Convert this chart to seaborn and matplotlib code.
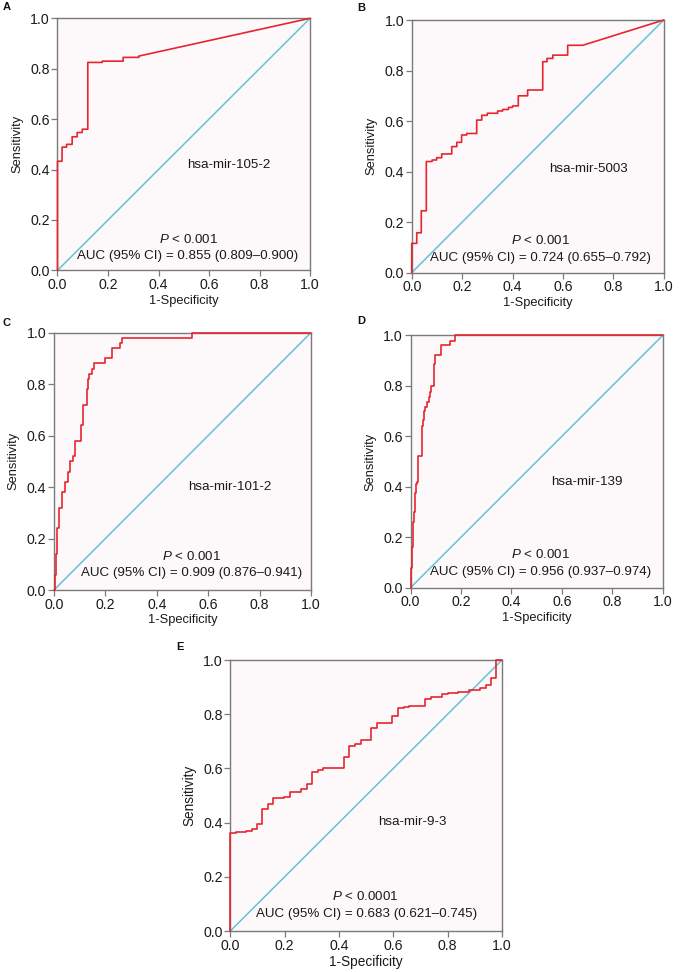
import numpy as np
import pandas as pd
import matplotlib
matplotlib.use("Agg")
import matplotlib.pyplot as plt
import seaborn as sns

# ---------------- data ----------------
panel_letters = ["A", "B", "C", "D", "E"]
mirna_names = ["hsa-mir-105-2", "hsa-mir-5003", "hsa-mir-101-2", "hsa-mir-139", "hsa-mir-9-3"]
p_texts = ["< 0.001", "< 0.001", "< 0.001", "< 0.001", "< 0.0001"]
auc_texts = [
    "AUC (95% CI) = 0.855 (0.809\u20130.900)",
    "AUC (95% CI) = 0.724 (0.655\u20130.792)",
    "AUC (95% CI) = 0.909 (0.876\u20130.941)",
    "AUC (95% CI) = 0.956 (0.937\u20130.974)",
    "AUC (95% CI) = 0.683 (0.621\u20130.745)",
]

# ROC operating points (step points); A and B end with a straight tail
fpr_a = [0.0, 0.0, 0.018, 0.036, 0.058, 0.078, 0.098, 0.12, 0.177, 0.26, 0.322, 1.0]
tpr_a = [0.0, 0.433, 0.489, 0.50, 0.53, 0.547, 0.56, 0.825, 0.83, 0.845, 0.85, 1.0]

fpr_b = [0.0, 0.0, 0.02, 0.038, 0.058, 0.081, 0.099, 0.119, 0.159, 0.179, 0.198, 0.218,
         0.258, 0.278, 0.30, 0.341, 0.361, 0.384, 0.40, 0.423, 0.46, 0.52, 0.537, 0.56,
         0.619, 0.679, 1.0]
tpr_b = [0.0, 0.116, 0.158, 0.245, 0.44, 0.446, 0.455, 0.47, 0.499, 0.516, 0.545, 0.551,
         0.604, 0.623, 0.631, 0.64, 0.646, 0.654, 0.66, 0.70, 0.723, 0.835, 0.848, 0.861,
         0.90, 0.90, 1.0]

fpr_c = [0.0, 0.004, 0.008, 0.013, 0.021, 0.03, 0.043, 0.053, 0.062, 0.075, 0.083, 0.105,
         0.112, 0.127, 0.131, 0.137, 0.147, 0.157, 0.198, 0.224, 0.257, 0.263, 0.536, 1.0]
tpr_c = [0.0, 0.06, 0.14, 0.24, 0.32, 0.38, 0.42, 0.46, 0.50, 0.52, 0.58, 0.64,
         0.72, 0.78, 0.82, 0.84, 0.86, 0.88, 0.90, 0.94, 0.96, 0.98, 1.0, 1.0]

fpr_d = [0.0, 0.002, 0.004, 0.009, 0.015, 0.018, 0.022, 0.026, 0.030, 0.044, 0.048, 0.052,
         0.059, 0.067, 0.073, 0.077, 0.083, 0.095, 0.099, 0.119, 0.156, 0.175, 1.0]
tpr_d = [0.0, 0.08, 0.16, 0.26, 0.30, 0.375, 0.41, 0.42, 0.52, 0.64, 0.665, 0.70,
         0.717, 0.737, 0.757, 0.777, 0.80, 0.885, 0.92, 0.96, 0.979, 1.0, 1.0]

fpr_e = [0.0, 0.0, 0.021, 0.056, 0.079, 0.097, 0.118, 0.14, 0.158, 0.199, 0.22, 0.26, 0.281,
         0.299, 0.321, 0.34, 0.418, 0.438, 0.459, 0.48, 0.518, 0.539, 0.594, 0.618, 0.639,
         0.659, 0.717, 0.737, 0.778, 0.80, 0.839, 0.88, 0.919, 0.94, 0.958, 0.978, 1.0]
tpr_e = [0.0, 0.36, 0.365, 0.37, 0.377, 0.394, 0.449, 0.469, 0.49, 0.496, 0.512, 0.524, 0.541,
         0.588, 0.594, 0.603, 0.643, 0.683, 0.689, 0.705, 0.748, 0.766, 0.795, 0.822, 0.828,
         0.832, 0.855, 0.865, 0.873, 0.877, 0.883, 0.889, 0.895, 0.908, 0.935, 1.0, 1.0]

roc_fprs = [fpr_a, fpr_b, fpr_c, fpr_d, fpr_e]
roc_tprs = [tpr_a, tpr_b, tpr_c, tpr_d, tpr_e]
linear_tails = [True, True, False, False, False]

chance_line = [0.0, 1.0]
tick_values = [0.0, 0.2, 0.4, 0.6, 0.8, 1.0]
tick_labels = ["0.0", "0.2", "0.4", "0.6", "0.8", "1.0"]
x_title = "1-Specificity"
y_title = "Sensitivity"

# ---------------- style ----------------
sns.set_theme(style="ticks")
plt.rcParams["font.family"] = ["Liberation Sans", "DejaVu Sans"]
plt.rcParams["mathtext.fontset"] = "custom"
plt.rcParams["mathtext.rm"] = "Liberation Sans"
plt.rcParams["mathtext.it"] = "Liberation Sans:italic"

W, H = 692, 972
fig = plt.figure(figsize=(W / 100, H / 100), dpi=100)
fig.patch.set_facecolor("white")

# axes boxes in pixels: left, top, right, bottom
boxes = [
    (57.5, 18.3, 310.0, 270.4),
    (411.7, 20.0, 663.7, 272.7),
    (54.0, 332.6, 311.0, 590.0),
    (410.5, 335.3, 662.8, 587.7),
    (230.3, 660.0, 502.0, 931.0),
]
letter_pos = [(2.5, 2.5), (357.5, 3.3), (2.5, 318.3), (357.5, 316.0), (176.0, 641.5)]
name_pos = [(0.68, 0.42), (0.70, 0.41), (0.683, 0.40), (0.70, 0.42), (0.67, 0.403)]
p_pos = [(0.517, 0.124), (0.51, 0.127), (0.536, 0.132), (0.514, 0.13), (0.498, 0.127)]
auc_pos = [(0.516, 0.058), (0.51, 0.058), (0.537, 0.065), (0.516, 0.061), (0.50, 0.063)]

RED = "#e5262f"
CYAN = "#63c3d4"
SPINE = "#7a7a7a"
BG = "#fdf8fa"


def roc_vertices(fpr, tpr, linear_tail):
    xs, ys = [fpr[0]], [tpr[0]]
    n = len(fpr)
    for i in range(1, n):
        if linear_tail and i == n - 1:
            xs.append(fpr[i]); ys.append(tpr[i])
        else:
            xs += [fpr[i], fpr[i]]
            ys += [tpr[i - 1], tpr[i]]
    return xs, ys


for k in range(5):
    l, t, r, b = boxes[k]
    ax = fig.add_axes([l / W, 1 - b / H, (r - l) / W, (b - t) / H])
    ax.set_facecolor(BG)

    diag = pd.DataFrame({"x": chance_line, "y": chance_line})
    sns.lineplot(data=diag, x="x", y="y", color=CYAN, lw=1.1, ax=ax,
                 estimator=None, sort=False)

    xs, ys = roc_vertices(roc_fprs[k], roc_tprs[k], linear_tails[k])
    df = pd.DataFrame({"fpr": xs, "tpr": ys})
    sns.lineplot(data=df, x="fpr", y="tpr", color=RED, lw=1.2, ax=ax,
                 estimator=None, sort=False, clip_on=False, zorder=4)

    ax.set_xlim(0, 1)
    ax.set_ylim(0, 1)
    ax.set_xticks(tick_values)
    ax.set_yticks(tick_values)
    ax.set_xticklabels(tick_labels)
    ax.set_yticklabels(tick_labels)
    fs_tick = 10.2
    ax.tick_params(axis="both", direction="out", length=4, width=0.9, color=SPINE,
                   labelsize=fs_tick, labelcolor="#1a1a1a", pad=1.5)
    for s in ax.spines.values():
        s.set_visible(True)
        s.set_color(SPINE)
        s.set_linewidth(1.0)
    lab_fs = 9.8 if k == 4 else 9.3
    ax.set_xlabel(x_title, fontsize=lab_fs, color="#1a1a1a", labelpad=2)
    ax.set_ylabel(y_title, fontsize=lab_fs, color="#1a1a1a", labelpad=5)

    txt_fs = 9.6
    ax.text(*name_pos[k], mirna_names[k], transform=ax.transAxes, ha="center",
            va="center", fontsize=txt_fs, color="#1a1a1a")
    ax.text(*p_pos[k], r"$P$ " + p_texts[k], transform=ax.transAxes, ha="center",
            va="center", fontsize=txt_fs, color="#1a1a1a")
    ax.text(*auc_pos[k], auc_texts[k], transform=ax.transAxes, ha="center",
            va="center", fontsize=txt_fs, color="#1a1a1a")

    lx, ly = letter_pos[k]
    fig.text(lx / W, 1 - ly / H, panel_letters[k], ha="left", va="top",
             fontsize=8, fontweight="bold", color="#111111")

fig.savefig("out.png", dpi=100, facecolor="white")
